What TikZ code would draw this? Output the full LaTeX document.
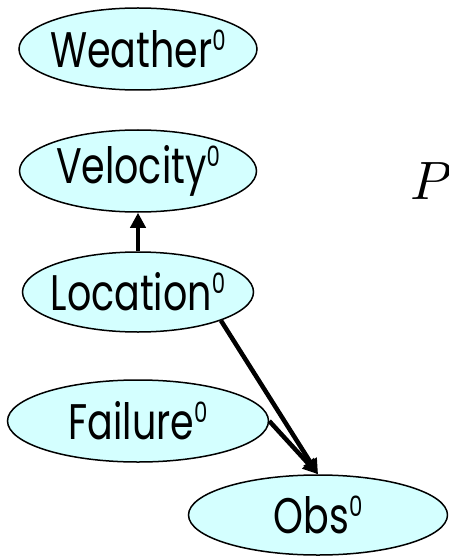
\documentclass[tikz,border=0pt]{standalone}
\usepackage{fontspec}
\setmainfont{Poppins}[FakeStretch=0.76]
\usetikzlibrary{shapes.geometric, arrows.meta}

\definecolor{varfill}{HTML}{D4FFFF}
% Variablenname mit hochgestellter Zeitscheibe (Text ragt bis an den Rand)
\newcommand{\varname}[2]{\makebox[0pt]{#1\raisebox{17pt}{\fontsize{28}{28}\selectfont #2}}}

\begin{document}
\begin{tikzpicture}[
    x=1pt, y=-1pt,
    >={Triangle[length=15pt, width=15pt]},
    var_node/.style={ellipse, draw=black, line width=1.5pt, fill=varfill, inner sep=0pt,
        font=\fontsize{50}{50}\selectfont},
    dep_line/.style={->, line width=4.5pt}
]
    \useasboundingbox (0,0) rectangle (448,556);
    \clip (0,0) rectangle (448,556);

    % Zustandsvariablen zum Zeitpunkt 0
    \node[var_node, minimum width=238, minimum height=82] (weather) at (138,49) {\varname{Weather}{0}};
    \node[var_node, minimum width=237, minimum height=82] (vel) at (138,171) {\varname{Velocity}{0}};
    \node[var_node, minimum width=231, minimum height=80] (loc) at (138,292) {\varname{Location}{0}};
    \node[var_node, minimum width=261, minimum height=82] (fail) at (138,421) {\varname{Failure}{0}};
    \node[var_node, minimum width=259, minimum height=80] (obs) at (318,515) {\varname{Obs}{0}};

    % Abhaengigkeiten
    \draw[dep_line] (loc.north) -- (vel.south);
    \draw[dep_line] (loc.-19) -- (obs.north);
    \draw[dep_line] (fail.east) -- (obs.north);

    % Wahrscheinlichkeit (rechts abgeschnitten)
    \node[anchor=base west, inner sep=0pt] (prob) at (410,199) {\scalebox{5.4}{$P$}};
\end{tikzpicture}
\end{document}
